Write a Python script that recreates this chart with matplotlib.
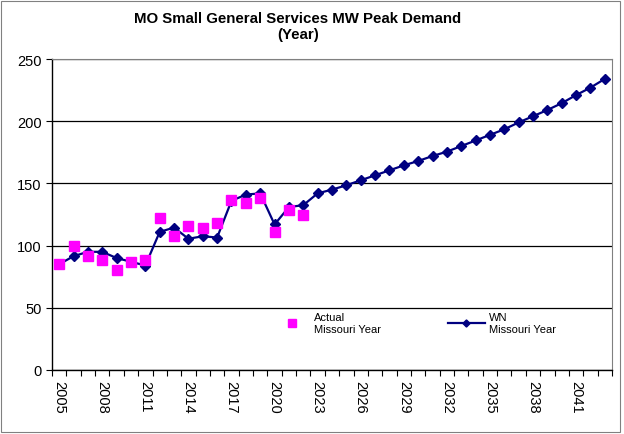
import numpy as np
import matplotlib
matplotlib.use("Agg")
import matplotlib.pyplot as plt
from matplotlib.patches import Rectangle

# Dati
years = list(range(2005, 2044))
wn_values = [85, 91.5, 95, 95, 90, 87, 84, 111, 114.5, 105.5, 107.5, 106.5, 136,
             141, 142, 117, 131, 132.5, 142, 145, 148.5, 152.5, 156.5, 160.5,
             164.5, 168, 172, 175.5, 180, 184.5, 189, 193.5, 199, 204, 209,
             214.5, 221, 227, 234]
actual_years = list(range(2005, 2023))
actual_values = [85.5, 99.5, 91.5, 88.5, 80, 87, 88.5, 122.5, 108, 116, 114.5,
                 118.5, 136.5, 134, 138.5, 111, 129, 124.5]
tick_years = list(range(2005, 2042, 3))

plt.rcParams.update({
    "font.family": ["Liberation Sans", "DejaVu Sans"],
})

fig = plt.figure(figsize=(6.24, 4.35), dpi=100)
ax = fig.add_axes([52 / 624, 64 / 435, 560 / 624, 311 / 435])

ax.plot(actual_years, actual_values, linestyle="none", marker="s", markersize=7,
        color="#FF00FF", label="Actual\nMissouri Year", zorder=3)
ax.plot(years, wn_values, color="#000080", lw=1.6, marker="D", markersize=4.8,
        label="WN\nMissouri Year", zorder=2)

ax.set_xlim(2004.5, 2043.5)
ax.set_ylim(0, 250)
ax.set_yticks(range(0, 251, 50))
ax.yaxis.grid(True, color="black", lw=0.9)
ax.set_axisbelow(True)

ax.set_xticks(tick_years)
ax.set_xticklabels([str(y) for y in tick_years], rotation=-90, fontsize=10.5)
ax.set_xticks(np.arange(2004.5, 2044, 1), minor=True)
ax.tick_params(axis="x", which="major", length=0, pad=7)
ax.tick_params(axis="x", which="minor", length=4, width=0.8, direction="out")
ax.tick_params(axis="y", length=4, width=0.8, labelsize=10.5, direction="out")

for side in ["top", "right"]:
    ax.spines[side].set_color("#808080")
    ax.spines[side].set_linewidth(0.8)
for side in ["left", "bottom"]:
    ax.spines[side].set_linewidth(1.0)

ax.legend(loc="upper left", bbox_to_anchor=(0.396, 0.186), ncol=2, frameon=False,
          fontsize=8, columnspacing=6.0, handlelength=3.3, handletextpad=0.35,
          borderpad=0, borderaxespad=0, markerscale=0.75)

fig.text(298 / 624, 1 - 27 / 435, "MO Small General Services MW Peak Demand\n(Year)",
         ha="center", va="center", fontsize=10.8, fontweight="bold", linespacing=1.1)

fig.patches.append(Rectangle((1 / 624, 2 / 435), 619 / 624, 431 / 435,
                             transform=fig.transFigure, fill=False,
                             edgecolor="#808080", lw=0.8))

fig.savefig("out.png", dpi=100)
